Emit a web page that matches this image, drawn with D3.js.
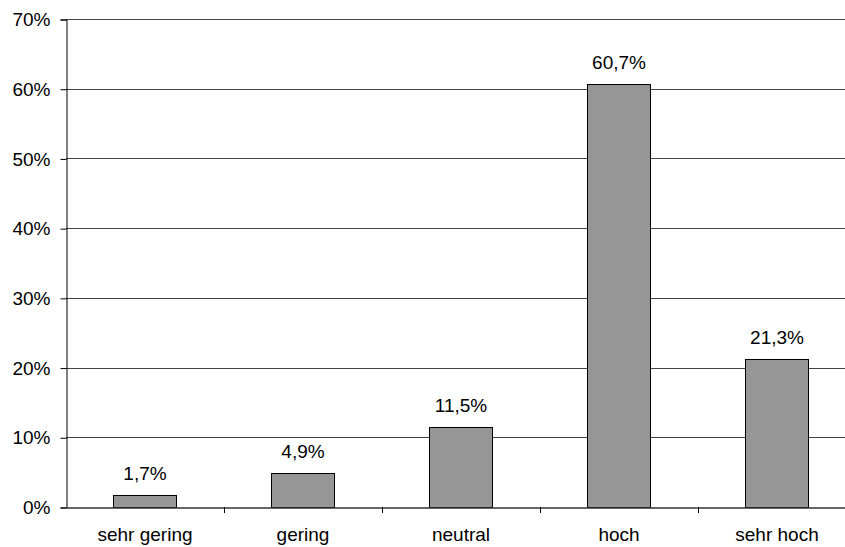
<!DOCTYPE html>
<html>
<head>
<meta charset="utf-8">
<script src="https://cdn.jsdelivr.net/npm/d3@7"></script>
<style>
  html, body { margin: 0; padding: 0; background: #fff; }
  svg { display: block; }
  text { font-family: "Liberation Sans", Arial, sans-serif; fill: #000; }
</style>
</head>
<body>
<svg id="chart" width="845" height="547"></svg>
<script>
const categories = ["sehr gering", "gering", "neutral", "hoch", "sehr hoch"];
const values = [1.7, 4.9, 11.5, 60.7, 21.3];
const yTicks = [0, 10, 20, 30, 40, 50, 60, 70];

const svg = d3.select("#chart");
const plotLeft = 66, plotRight = 856, plotTop = 19, plotBottom = 507;
const fontSize = 19;

const x = d3.scaleBand().domain(categories).range([plotLeft, plotRight]).paddingInner(0).paddingOuter(0);
const y = d3.scaleLinear().domain([0, 70]).range([plotBottom, plotTop]);
const barW = x.bandwidth() * 0.4;

// horizontal grid lines
svg.append("g")
  .selectAll("line")
  .data(yTicks.filter(t => t > 0))
  .join("line")
  .attr("x1", plotLeft).attr("x2", plotRight)
  .attr("y1", d => Math.round(y(d)) + 0.5).attr("y2", d => Math.round(y(d)) + 0.5)
  .attr("stroke", "#444").attr("stroke-width", 1);

// y axis
const yAxis = d3.axisLeft(y).tickValues(yTicks).tickFormat(d => d + "%").tickSize(6).tickPadding(10);
const gy = svg.append("g").attr("transform", `translate(${plotLeft + 0.5},0.5)`).call(yAxis);
gy.select(".domain").attr("stroke", "#000");
gy.selectAll(".tick line").attr("stroke", "#000");
gy.selectAll(".tick text").attr("font-size", fontSize).attr("font-family", "Liberation Sans, Arial, sans-serif").attr("fill", "#000");

// bars
svg.append("g")
  .selectAll("rect")
  .data(values)
  .join("rect")
  .attr("x", (d, i) => Math.round(x(categories[i]) + (x.bandwidth() - barW) / 2) + 0.5)
  .attr("y", d => Math.round(y(d)) + 0.5)
  .attr("width", Math.round(barW))
  .attr("height", d => Math.round(y(0)) - Math.round(y(d)))
  .attr("fill", "#969696")
  .attr("stroke", "#000")
  .attr("stroke-width", 1);

// x axis
const xAxis = d3.axisBottom(x).tickSize(0).tickPadding(0).tickFormat("");
const gx = svg.append("g").attr("transform", `translate(0,${plotBottom + 0.5})`).call(xAxis);
gx.select(".domain").attr("stroke", "#333").attr("stroke-width", 1.5);
gx.selectAll(".tick").remove();

// boundary ticks between categories
const bounds = categories.map(c => x(c)).concat([plotRight]).slice(1);
svg.append("g")
  .selectAll("line")
  .data(bounds)
  .join("line")
  .attr("x1", d => Math.round(d) + 0.5).attr("x2", d => Math.round(d) + 0.5)
  .attr("y1", plotBottom).attr("y2", plotBottom + 6)
  .attr("stroke", "#000");

// category labels
svg.append("g")
  .selectAll("text")
  .data(categories)
  .join("text")
  .attr("x", d => x(d) + x.bandwidth() / 2)
  .attr("y", 541)
  .attr("text-anchor", "middle")
  .attr("font-size", fontSize)
  .text(d => d);

// value labels
svg.append("g")
  .selectAll("text")
  .data(values)
  .join("text")
  .attr("x", (d, i) => x(categories[i]) + x.bandwidth() / 2)
  .attr("y", d => y(d) - 15)
  .attr("text-anchor", "middle")
  .attr("font-size", fontSize)
  .text(d => d.toFixed(1).replace(".", ",") + "%");
</script>
</body>
</html>
